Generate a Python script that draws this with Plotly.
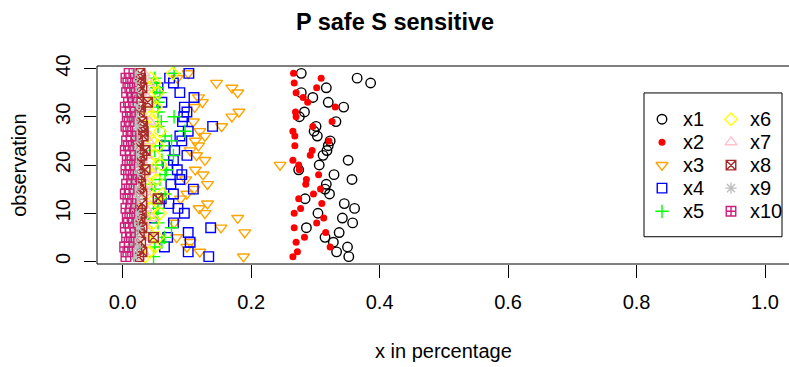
import plotly.graph_objects as go

obs = [1, 2, 3, 4, 5, 6, 7, 8, 9, 10, 11, 12, 13, 14, 15, 16, 17, 18, 19, 20,
       21, 22, 23, 24, 25, 26, 27, 28, 29, 30, 31, 32, 33, 34, 35, 36, 37, 38, 39]

x1 = [0.352, 0.333, 0.350, 0.328, 0.315, 0.337, 0.286, 0.358, 0.342, 0.304,
      0.361, 0.345, 0.284, 0.322, 0.315, 0.317, 0.357, 0.329, 0.274, 0.306,
      0.351, 0.312, 0.318, 0.320, 0.323, 0.303, 0.298, 0.301, 0.332, 0.275,
      0.283, 0.344, 0.320, 0.296, 0.278, 0.317, 0.386, 0.365, 0.278]
x2 = [0.265, 0.272, 0.323, 0.270, 0.283, 0.316, 0.267, 0.302, 0.313, 0.267,
      0.277, 0.310, 0.274, 0.297, 0.308, 0.285, 0.286, 0.305, 0.275, 0.274,
      0.265, 0.292, 0.295, 0.268, 0.321, 0.268, 0.265, 0.296, 0.326, 0.270,
      0.269, 0.331, 0.288, 0.281, 0.270, 0.302, 0.267, 0.309, 0.266]
x3 = [0.188, 0.120, 0.100, 0.105, 0.084, 0.190, 0.153, 0.080, 0.179, 0.128,
      0.119, 0.132, 0.090, 0.100, 0.111, 0.132, 0.098, 0.125, 0.113, 0.245,
      0.128, 0.115, 0.105, 0.118, 0.113, 0.128, 0.120, 0.154, 0.110, 0.170,
      0.181, 0.112, 0.124, 0.118, 0.179, 0.170, 0.146, 0.085, 0.102]
x4 = [0.134, 0.102, 0.065, 0.105, 0.070, 0.102, 0.137, 0.079, 0.045, 0.096,
      0.086, 0.072, 0.060, 0.079, 0.110, 0.075, 0.089, 0.092, 0.085, 0.070,
      0.079, 0.100, 0.081, 0.065, 0.092, 0.089, 0.102, 0.140, 0.093, 0.095,
      0.100, 0.096, 0.061, 0.111, 0.089, 0.055, 0.079, 0.073, 0.103]
x5 = [0.048, 0.027, 0.050, 0.061, 0.065, 0.045, 0.076, 0.055, 0.040, 0.053,
      0.055, 0.048, 0.060, 0.066, 0.050, 0.045, 0.058, 0.066, 0.068, 0.052,
      0.061, 0.079, 0.050, 0.061, 0.076, 0.066, 0.097, 0.055, 0.060, 0.080,
      0.055, 0.045, 0.055, 0.050, 0.058, 0.053, 0.048, 0.050, 0.080]
x6 = [0.035, 0.042, 0.050, 0.038, 0.055, 0.040, 0.030, 0.048, 0.036, 0.058,
      0.044, 0.032, 0.050, 0.062, 0.040, 0.035, 0.052, 0.045, 0.038, 0.060,
      0.042, 0.050, 0.036, 0.055, 0.046, 0.040, 0.058, 0.034, 0.048, 0.042,
      0.038, 0.052, 0.045, 0.036, 0.055, 0.040, 0.050, 0.044, 0.078]
x7 = [0.025, 0.032, 0.028, 0.035, 0.030, 0.040, 0.026, 0.033, 0.045, 0.029,
      0.036, 0.030, 0.042, 0.028, 0.034, 0.038, 0.027, 0.031, 0.044, 0.033,
      0.029, 0.037, 0.030, 0.026, 0.040, 0.032, 0.035, 0.029, 0.042, 0.031,
      0.027, 0.036, 0.030, 0.038, 0.028, 0.034, 0.041, 0.030, 0.033]
x8 = [0.025, 0.030, 0.022, 0.028, 0.048, 0.026, 0.030, 0.024, 0.027, 0.029,
      0.023, 0.030, 0.055, 0.030, 0.025, 0.028, 0.022, 0.027, 0.035, 0.024,
      0.026, 0.030, 0.035, 0.025, 0.023, 0.032, 0.032, 0.031, 0.030, 0.019,
      0.026, 0.028, 0.039, 0.025, 0.024, 0.030, 0.026, 0.028, 0.027]
x9 = [0.018, 0.015, 0.022, 0.012, 0.020, 0.016, 0.024, 0.014, 0.019, 0.021,
      0.013, 0.017, 0.023, 0.015, 0.020, 0.018, 0.012, 0.022, 0.016, 0.019,
      0.014, 0.021, 0.017, 0.013, 0.020, 0.018, 0.015, 0.022, 0.016, 0.019,
      0.014, 0.020, 0.017, 0.013, 0.021, 0.016, 0.018, 0.015, 0.019]
x10 = [0.005, 0.008, 0.003, 0.010, 0.006, 0.012, 0.004, 0.009, 0.007, 0.011,
       0.005, 0.013, 0.008, 0.004, 0.010, 0.006, 0.014, 0.009, 0.005, 0.011,
       0.007, 0.012, 0.004, 0.009, 0.006, 0.013, 0.008, 0.005, 0.010, 0.007,
       0.012, 0.004, 0.009, 0.015, 0.006, 0.011, 0.008, 0.005, 0.010]

series_names = ["x1", "x2", "x3", "x4", "x5", "x6", "x7", "x8", "x9", "x10"]
series_values = [x1, x2, x3, x4, x5, x6, x7, x8, x9, x10]
x_ticks = [0.0, 0.2, 0.4, 0.6, 0.8, 1.0]
x_tick_labels = ["0.0", "0.2", "0.4", "0.6", "0.8", "1.0"]
y_ticks = [0, 10, 20, 30, 40]
y_tick_labels = ["0", "10", "20", "30", "40"]

styles = [
    dict(symbol="circle-open", color="#000000", size=9.5),
    dict(symbol="circle", color="#FF0000", size=7),
    dict(symbol="triangle-down-open", color="#FFA500", size=10.5),
    dict(symbol="square-open", color="#0000FF", size=9.5),
    dict(symbol="cross-thin-open", color="#00FF00", size=9.5),
    dict(symbol="diamond-open", color="#FFFF00", size=9.5),
    dict(symbol="triangle-up-open", color="#FFC0CB", size=10.5),
    dict(symbol="square-x-open", color="#A52A2A", size=9.5),
    dict(symbol="asterisk-open", color="#BEBEBE", size=9.5),
    dict(symbol="square-cross-open", color="#CC1F7A", size=9.5),
]

FONT = "Liberation Sans, Arial, Helvetica, sans-serif"
FS = 20

fig = go.Figure()
for name, vals, st in zip(series_names, series_values, styles):
    fig.add_trace(go.Scatter(
        x=vals, y=obs, mode="markers", name=name, showlegend=False,
        marker=dict(symbol=st["symbol"], size=st["size"], color=st["color"],
                    line=dict(color=st["color"], width=1.4 if st["symbol"] != "circle" else 0)),
        xaxis="x", yaxis="y", cliponaxis=True,
    ))

# manual legend drawn on an overlay pixel-space axis
L, R, T, B = 97, 789, 66, 264.3
leg_rows = [119.3, 142.3, 165.3, 188.3, 211.5]
leg_cols = [(662, 681), (731, 748)]
for i, (name, st) in enumerate(zip(series_names, styles)):
    col, row = divmod(i, 5)
    sx, tx = leg_cols[col]
    sy = leg_rows[row]
    fig.add_trace(go.Scatter(
        x=[sx], y=[sy], mode="markers", showlegend=False, hoverinfo="skip",
        marker=dict(symbol=st["symbol"], size=st["size"], color=st["color"],
                    line=dict(color=st["color"], width=1.4 if st["symbol"] != "circle" else 0)),
        xaxis="x2", yaxis="y2",
    ))
    fig.add_annotation(x=tx, y=sy, xref="x2", yref="y2", text=name, showarrow=False,
                       xanchor="left", yanchor="middle",
                       font=dict(family=FONT, size=FS, color="black"))

fig.add_shape(type="rect", xref="x2", yref="y2", x0=644, x1=782, y0=93, y1=237,
              line=dict(color="black", width=1), fillcolor="rgba(0,0,0,0)")

# plot box (right edge lies outside the canvas)
for (x0, y0, x1_, y1_) in [(0, 0, 0, 1), (0, 0, 1.05, 0), (0, 1, 1.05, 1)]:
    fig.add_shape(type="line", xref="paper", yref="paper", x0=x0, y0=y0, x1=x1_, y1=y1_,
                  line=dict(color="black", width=1))

fig.update_layout(
    width=789, height=367,
    margin=dict(l=L, r=789 - R, t=T, b=367 - B, pad=0),
    paper_bgcolor="white", plot_bgcolor="white",
    font=dict(family=FONT, size=FS, color="black"),
    xaxis=dict(range=[(L - 122.7) / 642.3, (R - 122.7) / 642.3], tickvals=x_ticks,
               ticktext=x_tick_labels, ticks="outside", ticklen=13, tickwidth=1,
               tickcolor="black", showgrid=False, zeroline=False, showline=False,
               ticklabelstandoff=7, tickfont=dict(family=FONT, size=FS)),
    yaxis=dict(range=[-0.52, 40.52], tickvals=y_ticks, ticktext=y_tick_labels,
               ticks="outside", ticklen=12, tickwidth=1, tickcolor="black",
               showgrid=False, zeroline=False, showline=False, tickangle=-90,
               ticklabelstandoff=6, tickfont=dict(family=FONT, size=FS)),
    xaxis2=dict(range=[L, R], overlaying="x", visible=False, fixedrange=True),
    yaxis2=dict(range=[B, T], overlaying="y", visible=False, fixedrange=True),
    title=dict(text="<b>P safe S sensitive</b>", x=395 / 789, xref="container",
               xanchor="center", y=1 - 22 / 367, yref="container", yanchor="middle",
               font=dict(family=FONT, size=23.5, color="black")),
    showlegend=False,
)

fig.add_annotation(text="x in percentage", xref="paper", yref="paper",
                   x=(444 - L) / (R - L), y=(B - 351) / (B - T), showarrow=False,
                   xanchor="center", yanchor="middle", font=dict(family=FONT, size=FS))
fig.add_annotation(text="observation", xref="paper", yref="paper",
                   x=(19 - L) / (R - L), y=(B - 166) / (B - T), showarrow=False,
                   textangle=-90, xanchor="center", yanchor="middle",
                   font=dict(family=FONT, size=FS))

fig.write_html("out.html")
